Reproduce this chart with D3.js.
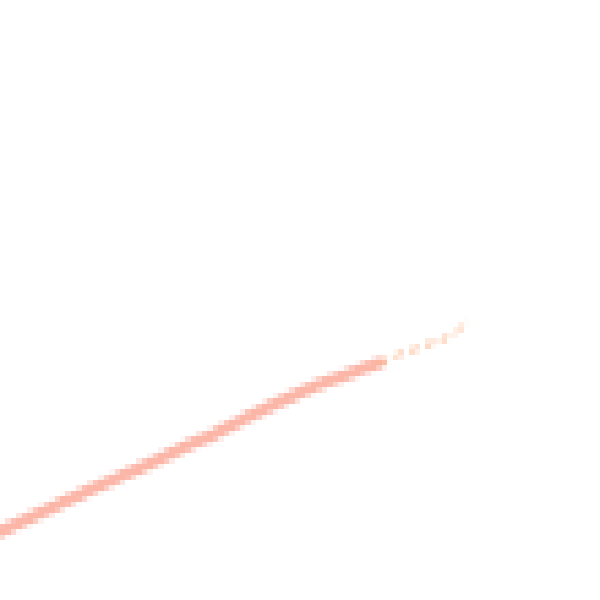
<!DOCTYPE html>
<html>
<head>
<meta charset="utf-8">
<script src="https://cdn.jsdelivr.net/npm/d3@7"></script>
<style>
html,body{margin:0;padding:0;background:#fff;overflow:hidden}
canvas{display:block;width:600px;height:600px;image-rendering:pixelated}
</style>
</head>
<body>
<canvas id="c" width="110" height="110"></canvas>
<script>
// main trend segment (data units 0..100 on both axes)
const mainX = [0, 8.3, 16.7, 25, 33.3, 41.7, 50, 58.3, 63.3];
const mainY = [11.3, 15.2, 19, 22.8, 26.5, 30.7, 34.5, 37.7, 39.5];
// faint tail segment
const tailX = [63.3, 66.7, 71.7, 75.8, 78];
const tailY = [39.5, 41, 42.7, 44.5, 46.5];

const W = 110, H = 110;
const ctx = document.getElementById("c").getContext("2d");
ctx.fillStyle = "#fff";
ctx.fillRect(0, 0, W, H);
const x = d3.scaleLinear().domain([0, 100]).range([0, W]);
const y = d3.scaleLinear().domain([0, 100]).range([H, 0]);
const line = d3.line().x(d => x(d[0])).y(d => y(d[1])).curve(d3.curveMonotoneX).context(ctx);

ctx.lineCap = "round";
ctx.beginPath();
line(mainX.map((v, i) => [v, mainY[i]]));
ctx.strokeStyle = "rgba(248,130,105,0.58)";
ctx.lineWidth = 2.2;
ctx.stroke();

ctx.beginPath();
line(tailX.map((v, i) => [v, tailY[i]]));
ctx.strokeStyle = "rgba(252,175,130,0.75)";
ctx.lineWidth = 1.0;
ctx.setLineDash([1.6, 1.4]);
ctx.lineCap = "butt";
ctx.stroke();
</script>
</body>
</html>
